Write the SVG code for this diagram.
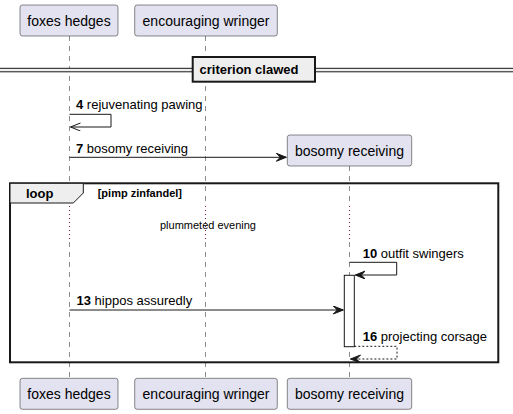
<svg xmlns="http://www.w3.org/2000/svg" width="513" height="414" viewBox="0 0 513 414">
<style>
  .part rect { fill: #E2E2F0; stroke: #181818; stroke-width: 0.5; }
  .part text { font-family: "Liberation Sans", Arial, sans-serif; font-size: 14px; fill: #000; text-anchor: middle; }
  .life { stroke: #181818; stroke-width: 0.5; stroke-dasharray: 5,5; fill: none; }
  .delay { stroke: #7A1F3D; stroke-width: 1; stroke-dasharray: 1,3; fill: none; }
  .msg { stroke: #181818; stroke-width: 1; fill: none; }
  .dash { stroke-dasharray: 2,2; }
  .lbl { font-family: "Liberation Sans", Arial, sans-serif; font-size: 13px; fill: #000; }
  .b { font-weight: bold; }
  .small { font-family: "Liberation Sans", Arial, sans-serif; font-size: 11px; fill: #000; }
</style>
<defs>
  <marker id="filled" markerWidth="12" markerHeight="10" refX="10" refY="4" orient="auto" markerUnits="userSpaceOnUse">
    <polygon points="0,0 10,4 0,8 4,4" fill="#181818" stroke="#181818" stroke-width="1"/>
  </marker>
  <marker id="open" markerWidth="12" markerHeight="10" refX="10" refY="4" orient="auto" markerUnits="userSpaceOnUse">
    <polyline points="0,0 10,4 0,8" fill="none" stroke="#181818" stroke-width="1"/>
  </marker>
</defs>
<rect width="513" height="414" fill="#FFFFFF"/>

<g id="lifelines">
  <line class="life" x1="69.5" y1="36" x2="69.5" y2="205"/>
  <line class="delay" x1="69.5" y1="206" x2="69.5" y2="241"/>
  <line class="life" x1="69.5" y1="242" x2="69.5" y2="378"/>
  <line class="life" x1="205.5" y1="36" x2="205.5" y2="205"/>
  <line class="delay" x1="205.5" y1="206" x2="205.5" y2="241"/>
  <line class="life" x1="205.5" y1="242" x2="205.5" y2="378"/>
  <line class="life" x1="349.5" y1="166" x2="349.5" y2="205"/>
  <line class="delay" x1="349.5" y1="206" x2="349.5" y2="241"/>
  <line class="life" x1="349.5" y1="242" x2="349.5" y2="378"/>
</g>

<g id="divider">
  <rect x="0" y="68.3" width="513" height="3.4" fill="#EEEEEE" stroke="none"/>
  <line x1="0" y1="68.3" x2="513" y2="68.3" stroke="#181818" stroke-width="1"/>
  <line x1="0" y1="71.8" x2="513" y2="71.8" stroke="#181818" stroke-width="1"/>
  <rect x="192.7" y="57" width="122.3" height="24.7" fill="#EEEEEE" stroke="#181818" stroke-width="2"/>
  <text class="lbl b" x="199.5" y="74">criterion clawed</text>
</g>

<g id="loop">
  <rect x="10" y="183.3" width="488.3" height="179" fill="none" stroke="#181818" stroke-width="2"/>
  <polygon points="10,183.3 83.3,183.3 83.3,193 73.3,203 10,203" fill="#EEEEEE" stroke="#181818" stroke-width="1"/>
  <text class="lbl b" x="26" y="198.3">loop</text>
  <text class="small b" x="97.7" y="196.5">[pimp zinfandel]</text>
</g>

<g id="delay-label">
  <text class="small" x="208" y="229" text-anchor="middle">plummeted evening</text>
</g>

<g id="activation">
  <rect x="344.3" y="275.3" width="10" height="71.4" fill="#FFFFFF" stroke="#181818" stroke-width="1"/>
</g>

<g id="connectors">
  <polyline class="msg" points="69.5,114.3 111,114.3 111,127 70.5,127" marker-end="url(#open)"/>
  <line class="msg" x1="69.5" y1="157.3" x2="286.3" y2="157.3" marker-end="url(#filled)"/>
  <polyline class="msg" points="349.5,262.3 396.7,262.3 396.7,275 355.3,275" marker-end="url(#filled)"/>
  <line class="msg" x1="69.5" y1="310" x2="343.3" y2="310" marker-end="url(#filled)"/>
  <polyline class="msg dash" points="354.3,346.3 397,346.3 397,359 350.5,359" marker-end="url(#filled)"/>
</g>

<g id="labels">
  <text class="lbl" x="76" y="108.8"><tspan class="b">4</tspan> rejuvenating pawing</text>
  <text class="lbl" x="76" y="152.5"><tspan class="b">7</tspan> bosomy receiving</text>
  <text class="lbl" x="362.7" y="257.5"><tspan class="b">10</tspan> outfit swingers</text>
  <text class="lbl" x="76.5" y="305.2"><tspan class="b">13</tspan> hippos assuredly</text>
  <text class="lbl" x="362.7" y="341.3"><tspan class="b">16</tspan> projecting corsage</text>
</g>

<g id="p-foxes-top" class="part">
  <rect x="20" y="5" width="98" height="31" rx="2.5"/>
  <text x="69" y="26">foxes hedges</text>
</g>
<g id="p-wringer-top" class="part">
  <rect x="134.7" y="5" width="142.6" height="31" rx="2.5"/>
  <text x="206" y="26">encouraging wringer</text>
</g>
<g id="p-bosomy-top" class="part">
  <rect x="287.3" y="135" width="124.4" height="31" rx="2.5"/>
  <text x="349.5" y="156">bosomy receiving</text>
</g>
<g id="p-foxes-bottom" class="part">
  <rect x="20" y="378.3" width="98" height="31" rx="2.5"/>
  <text x="69" y="399.3">foxes hedges</text>
</g>
<g id="p-wringer-bottom" class="part">
  <rect x="134.7" y="378.3" width="142.6" height="31" rx="2.5"/>
  <text x="206" y="399.3">encouraging wringer</text>
</g>
<g id="p-bosomy-bottom" class="part">
  <rect x="287.3" y="378.3" width="124.4" height="31" rx="2.5"/>
  <text x="349.5" y="399.3">bosomy receiving</text>
</g>
</svg>
